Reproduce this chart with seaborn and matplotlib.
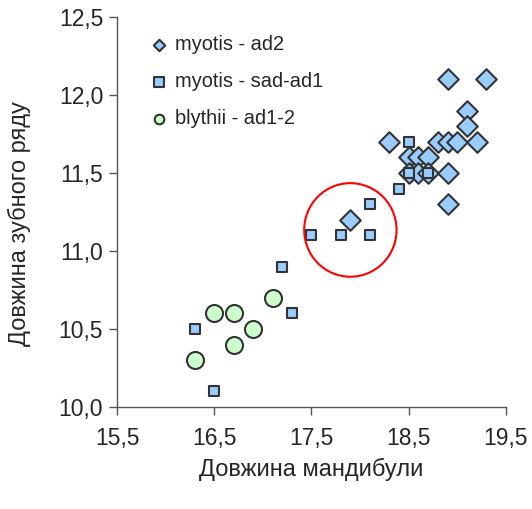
"""
Довжина мандибули vs довжина зубного ряду: myotis (ad2, sad-ad1) та blythii.
"""

import numpy as np
import pandas as pd
import matplotlib
matplotlib.use("Agg")
import matplotlib.pyplot as plt
from matplotlib.patches import Ellipse
import seaborn as sns

# --- дані ---
myotis_ad2_x = [18.9, 19.3, 19.1, 19.1, 18.3, 18.8, 18.9, 19.0, 19.2,
                18.5, 18.6, 18.7, 18.5, 18.6, 18.7, 18.9, 18.9, 17.9]
myotis_ad2_y = [12.1, 12.1, 11.9, 11.8, 11.7, 11.7, 11.7, 11.7, 11.7,
                11.6, 11.6, 11.6, 11.5, 11.5, 11.5, 11.5, 11.3, 11.2]

myotis_sad_x = [18.5, 18.5, 18.7, 18.4, 18.1, 17.5, 17.8, 18.1, 17.2, 17.3, 16.3, 16.5]
myotis_sad_y = [11.7, 11.5, 11.5, 11.4, 11.3, 11.1, 11.1, 11.1, 10.9, 10.6, 10.5, 10.1]

blythii_x = [17.1, 16.5, 16.7, 16.9, 16.7, 16.3]
blythii_y = [10.7, 10.6, 10.6, 10.5, 10.4, 10.3]

groups = ["myotis - ad2", "myotis - sad-ad1", "blythii - ad1-2"]
x_ticks = [15.5, 16.5, 17.5, 18.5, 19.5]
y_ticks = [10.0, 10.5, 11.0, 11.5, 12.0, 12.5]

# виділене коло (центр і розміри в одиницях осей)
circle_center = (17.90, 11.135)
circle_w, circle_h = 0.95, 0.60

df = pd.DataFrame({
    "x": myotis_ad2_x + myotis_sad_x + blythii_x,
    "y": myotis_ad2_y + myotis_sad_y + blythii_y,
    "group": [groups[0]] * len(myotis_ad2_x)
             + [groups[1]] * len(myotis_sad_x)
             + [groups[2]] * len(blythii_x),
})

sns.set_style("white")
plt.rcParams["font.family"] = ["Liberation Sans", "DejaVu Sans"]

fig = plt.figure(figsize=(5.32, 5.09), dpi=100)
ax = fig.add_axes([0.22, 0.2004, 0.731, 0.7662])

styles = {
    groups[0]: dict(marker="D", s=110, legend_s=34, color="#99CCFF"),
    groups[1]: dict(marker="s", s=62, legend_s=55, color="#99CCFF"),
    groups[2]: dict(marker="o", s=150, legend_s=48, color="#CCFFCC"),
}
for g in groups:
    sub = df[df["group"] == g]
    st = styles[g]
    sns.scatterplot(data=sub, x="x", y="y", marker=st["marker"], s=st["s"],
                    color=st["color"], edgecolor="#333333", linewidth=1.5,
                    label=g, ax=ax, zorder=3)

ax.add_patch(Ellipse(circle_center, circle_w, circle_h, fill=False,
                     edgecolor="red", linewidth=1.5, zorder=4))

ax.set_xlim(15.5, 19.5)
ax.set_ylim(10.0, 12.5)
ax.set_xticks(x_ticks)
ax.set_yticks(y_ticks)
ax.set_xticklabels([f"{v:.1f}".replace(".", ",") for v in x_ticks])
ax.set_yticklabels([f"{v:.1f}".replace(".", ",") for v in y_ticks])
ax.tick_params(axis="both", labelsize=16.5, length=6, width=1, color="#555555",
               direction="out", bottom=True, left=True)
ax.tick_params(axis="x", pad=8.5)
ax.tick_params(axis="y", pad=4)

for side in ["top", "right"]:
    ax.spines[side].set_visible(False)
for side in ["left", "bottom"]:
    ax.spines[side].set_color("#555555")
    ax.spines[side].set_linewidth(1)

ax.set_xlabel("Довжина мандибули", fontsize=17, labelpad=5.5)
ax.set_ylabel("Довжина зубного ряду", fontsize=17, labelpad=20)
ax.yaxis.label.set_y(0.47)

leg = ax.legend(loc="upper left", bbox_to_anchor=(0.037, 1.0), frameon=False,
                fontsize=14.4, handletextpad=0.3, labelspacing=0.9,
                handlelength=1.0)
for h, g in zip(leg.legend_handles, groups):
    h.set_sizes([styles[g]["legend_s"]])

fig.savefig("out.png", dpi=100)
